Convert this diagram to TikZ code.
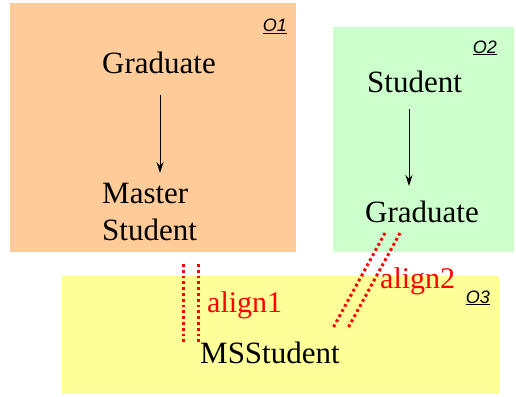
\documentclass[tikz,border=0pt]{standalone}
\usepackage{fontspec}
\setmainfont{Liberation Serif}
\setsansfont{Liberation Sans}
\usetikzlibrary{arrows.meta}
\definecolor{peach}{HTML}{FFCC99}
\definecolor{mint}{HTML}{CCFFCC}
\definecolor{lemon}{HTML}{FFFF99}
\definecolor{alred}{HTML}{FF0000}
\begin{document}
\begin{tikzpicture}[x=1pt,y=-1pt,
  concept/.style={anchor=base west,inner sep=0pt,font=\fontsize{31}{37}\selectfont},
  onto/.style={anchor=base east,inner sep=0pt,font=\fontsize{18}{22}\selectfont\sffamily\itshape},
  lbl/.style={anchor=base west,inner sep=0pt,text=alred,font=\fontsize{30}{36}\selectfont},
  isa/.style={line width=0.9pt,-{Stealth[length=11pt,width=7pt]}},
  align/.style={alred,line width=3pt,dash pattern=on 2.8pt off 3pt}]
\useasboundingbox (0,0) rectangle (516,396);
% ontology boxes
\fill[peach] (10,3) rectangle (296,252);
\fill[mint] (333,27) rectangle (514,252);
\fill[lemon] (62,276) rectangle (499,394);
% ontology labels
\node[onto] (o1) at (287,32) {\underline{O1}};
\node[onto] (o2) at (497,53) {\underline{O2}};
\node[onto] (o3) at (490,303) {\underline{O3}};
% concepts
\node[concept] (g1) at (102,74) {Graduate};
\node[concept] (m1) at (102,203) {Master};
\node[concept] (s1) at (102,240) {Student};
\node[concept] (s2) at (367,92) {Student};
\node[concept] (g2) at (365,222) {Graduate};
\node[concept] (ms) at (200,363) {MSStudent};
% is-a arrows
\coordinate (a1s) at (160,95);
\coordinate (a1e) at (160,173);
\coordinate (a2s) at (409,109);
\coordinate (a2e) at (409,186);
\draw[isa] (a1s) -- (a1e);
\draw[isa] (a2s) -- (a2e);
% alignment links
\coordinate (p1s) at (183,264);
\coordinate (p1e) at (183,342);
\coordinate (p2s) at (198,264);
\coordinate (p2e) at (198,342);
\draw[align] (p1s) -- (p1e);
\draw[align] (p2s) -- (p2e);
\coordinate (q1s) at (385,233);
\coordinate (q1e) at (333,328);
\coordinate (q2s) at (400,233);
\coordinate (q2e) at (348,328);
\draw[align] (q1s) -- (q1e);
\draw[align] (q2s) -- (q2e);
\node[lbl] (al1) at (207,312) {align1};
\node[lbl] (al2) at (380,288) {align2};
\end{tikzpicture}
\end{document}
